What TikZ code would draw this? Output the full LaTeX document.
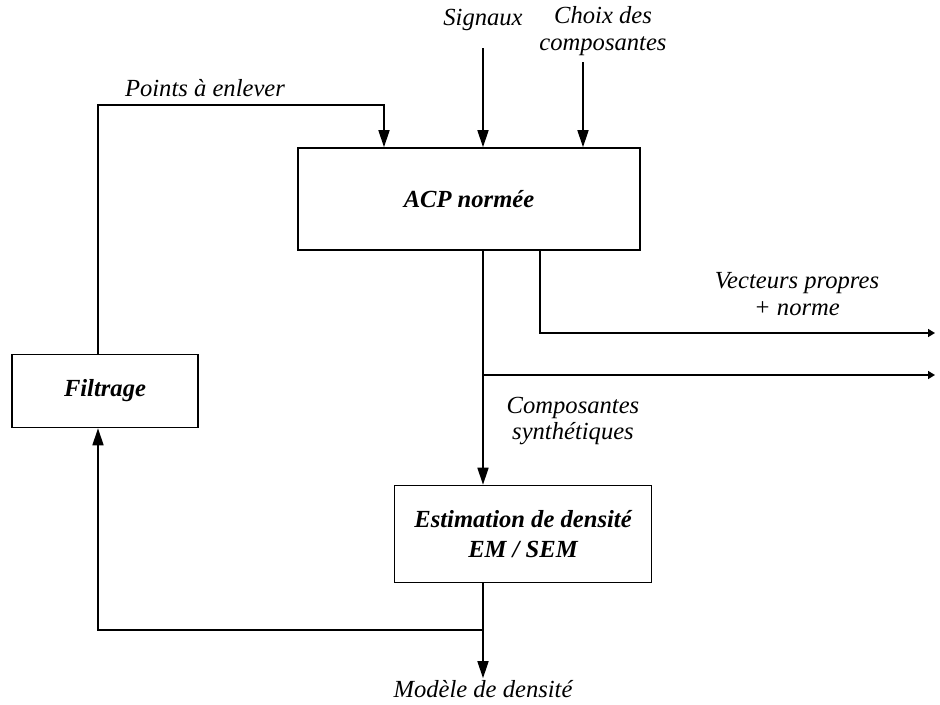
\documentclass[tikz,border=0pt]{standalone}
\usepackage{fontspec}
\setmainfont{Liberation Serif}
\usetikzlibrary{arrows.meta}

\begin{document}
\begin{tikzpicture}[
    x=0.02cm, y=-0.02cm,
    bloc/.style={draw, line width=0.9pt, align=center, font=\fontsize{14}{17}\selectfont\bfseries\itshape},
    label/.style={align=center, inner sep=1pt, font=\fontsize{14}{15}\selectfont\itshape},
    flow/.style={-{Triangle[length=3.4mm,width=2.2mm]}, line width=0.9pt},
    sortie/.style={-{Triangle[length=1.4mm,width=1.6mm]}, line width=0.9pt}
]
\useasboundingbox (0,0) rectangle (940,704);

\node[bloc, minimum width=342*0.02cm, minimum height=102*0.02cm] (acp) at (469,199) {ACP normée};
\node[bloc, minimum width=257*0.02cm, minimum height=97*0.02cm] (estim) at (523,534) {Estimation de densité\\EM / SEM};
\node[bloc, minimum width=186*0.02cm, minimum height=73*0.02cm] (filtrage) at (105,391) {Filtrage};

\node[label] (signaux) at (483,20) {Signaux};
\node[label] (choix) at (603,31) {Choix des\\composantes};
\node[label] (points) at (205,88) {Points à enlever};
\node[label] (vecteurs) at (797,294) {Vecteurs propres\\+ norme};
\node[label] (compo) at (573,421) {Composantes\\synthétiques};
\node[label] (modele) at (483,689) {Modèle de densité};

\coordinate (coin) at (98,105);
\coordinate (entree) at (384,105);
\coordinate (choixx) at (583,62);
\coordinate (split) at (483,375);
\coordinate (vp) at (540,333);
\coordinate (out1) at (935,333);
\coordinate (out2) at (935,375);
\coordinate (merge) at (483,630);

% entrees de l'ACP
\draw[flow] (coin |- filtrage.north) -- (coin) -- (entree) -- (entree |- acp.north);
\draw[flow] (signaux.south |- 0,48) -- (signaux |- acp.north);
\draw[flow] (choixx) -- (choixx |- acp.north);

% sorties de l'ACP
\draw[flow] (split |- acp.south) -- (split |- estim.north);
\draw[sortie] (split) -- (out2);
\draw[sortie] (vp |- acp.south) |- (out1);

% modele et boucle de filtrage
\draw[flow] (merge |- estim.south) -- (modele.north);
\draw[flow] (merge) -| (coin |- filtrage.south);
\end{tikzpicture}
\end{document}
